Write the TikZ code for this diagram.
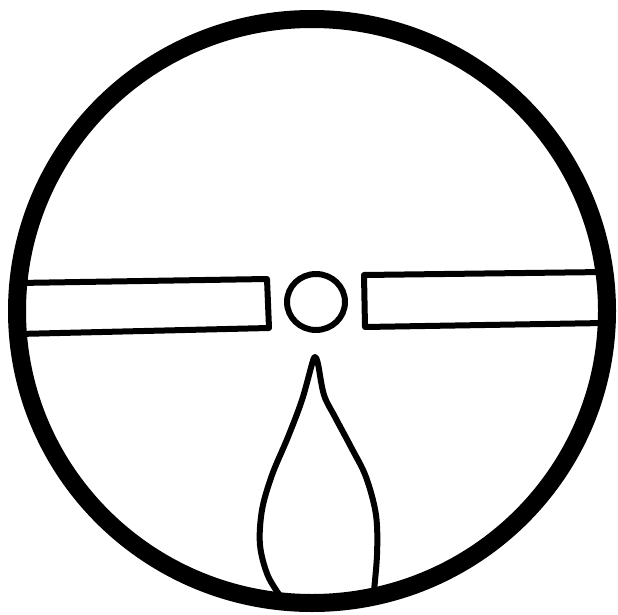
\documentclass[tikz,border=0pt]{standalone}
\begin{document}
\begin{tikzpicture}[x=1pt,y=-1pt,
  outer/.style={line width=18pt},
  thin/.style={line width=6pt,line join=round,line cap=round}]
\useasboundingbox (0,0) rectangle (618,615);
% bars
\draw[thin] (18,283) -- (267,279) -- (269,328) -- (18,334);
\draw[thin] (605,272) -- (364,275) -- (365,327) -- (605,323);
% small circle
\draw[thin] (316,302) circle [x radius=29, y radius=28];
% flame
\draw[thin] plot[smooth,tension=0.55] coordinates {(283,600) (268,576) (260,545) (262,510) (272,475) (288,437) (302,400) (312,364) (315,357) (318,364) (324,395) (335,417) (351,447) (366,477) (376,515) (377,555) (373,600)};
% outer circle
\draw[outer] (312,311) ellipse [x radius=295, y radius=292];
\end{tikzpicture}
\end{document}
